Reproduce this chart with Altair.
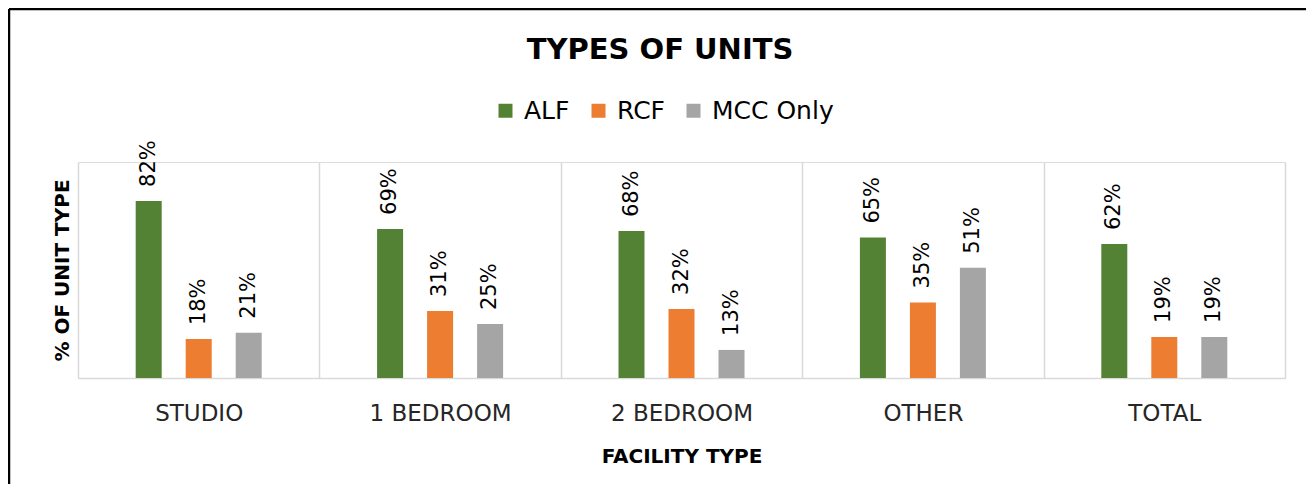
import altair as alt
import pandas as pd

categories = ["STUDIO", "1 BEDROOM", "2 BEDROOM", "OTHER", "TOTAL"]
series = ["ALF", "RCF", "MCC Only"]
alf = [82, 69, 68, 65, 62]
rcf = [18, 31, 32, 35, 19]
mcc = [21, 25, 13, 51, 19]
colors = ["#548235", "#ED7D31", "#A5A5A5"]
chart_title = "TYPES OF UNITS"

rows = []
for i, c in enumerate(categories):
    for s, vals in zip(series, [alf, rcf, mcc]):
        rows.append({"cat": c, "series": s, "value": vals[i], "label": f"{vals[i]}%"})
df = pd.DataFrame(rows)

FONT = "DejaVu Sans"

x = alt.X("cat:N", sort=categories,
          scale=alt.Scale(paddingInner=0, paddingOuter=0),
          axis=alt.Axis(title="FACILITY TYPE", tickBand="extent", grid=True,
                        gridColor="#d9d9d9", gridWidth=1.5, domainColor="#d9d9d9",
                        domainWidth=1.5, ticks=False, labelAngle=0,
                        labelFont=FONT, labelFontSize=23, labelColor="#262626",
                        labelPadding=24, titleFont=FONT, titleFontSize=20,
                        titleFontWeight="bold", titleColor="#000000", titlePadding=21))
xo = alt.XOffset("series:N", sort=series,
                 scale=alt.Scale(paddingInner=0, paddingOuter=0.914))
y = alt.Y("value:Q", scale=alt.Scale(domain=[0, 100]),
          axis=alt.Axis(title="% OF UNIT TYPE", labels=False, ticks=False, domain=False,
                        grid=False, titleFont=FONT, titleFontSize=20,
                        titleFontWeight="bold", titleColor="#000000", titlePadding=6))

color = alt.Color("series:N", sort=series,
                  scale=alt.Scale(domain=series, range=colors),
                  legend=alt.Legend(title=None, orient="none", direction="horizontal",
                                    legendX=415, legendY=-64, symbolType="square",
                                    symbolSize=196, symbolStrokeWidth=0,
                                    labelFont=FONT, labelFontSize=25,
                                    labelColor="#000000", columnPadding=16,
                                    labelOffset=6, symbolOpacity=1))

bars = alt.Chart(df).mark_bar(width=26).encode(x=x, xOffset=xo, y=y, color=color)

labels = alt.Chart(df).mark_text(angle=270, align="left", baseline="middle",
                                 dx=14, font=FONT, fontSize=21, color="#000000").encode(
    x=alt.X("cat:N", sort=categories), xOffset=alt.XOffset("series:N", sort=series),
    y="value:Q", text="label:N")

one = pd.DataFrame({"t": [chart_title]})
title = alt.Chart(one).mark_text(font=FONT, fontSize=29, fontWeight="bold",
                                 color="#000000", align="center", baseline="middle").encode(
    x=alt.value(582), y=alt.value(-112), text="t:N")

border_top = alt.Chart(one).mark_rule(color="#000000", strokeWidth=2.5).encode(
    x=alt.value(-69), x2=alt.value(1240), y=alt.value(-153))
border_left = alt.Chart(one).mark_rule(color="#000000", strokeWidth=2.5).encode(
    x=alt.value(-69), y=alt.value(-153), y2=alt.value(330))

chart = alt.layer(bars, labels, title, border_top, border_left).properties(
    width=1207, height=216,
    autosize=alt.AutoSizeParams(type="none"),
    padding={"left": 70, "top": 154, "right": 21, "bottom": 106},
).configure_view(stroke=None).configure(background="white")

chart.save("out.html", embed_options={"renderer": "svg", "actions": False})
